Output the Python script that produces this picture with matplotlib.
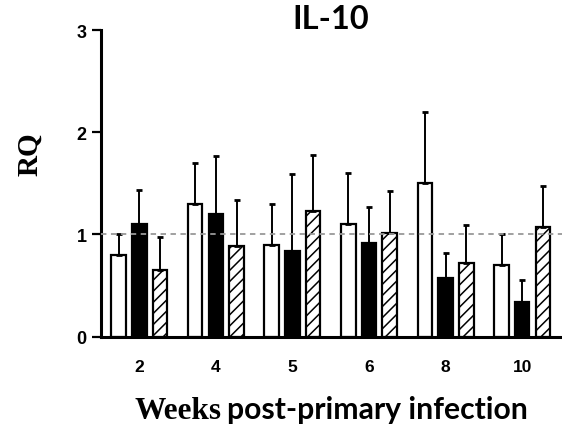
import numpy as np
import matplotlib
matplotlib.use('Agg')
import matplotlib.pyplot as plt

weeks = ['2', '4', '5', '6', '8', '10']

# mean RQ and upper SD for the three groups
white_mean = [0.80, 1.30, 0.90, 1.10, 1.50, 0.70]
white_err = [0.20, 0.40, 0.40, 0.50, 0.70, 0.30]
black_mean = [1.10, 1.20, 0.84, 0.92, 0.57, 0.34]
black_err = [0.33, 0.57, 0.75, 0.35, 0.25, 0.21]
hatch_mean = [0.65, 0.89, 1.23, 1.01, 0.72, 1.07]
hatch_err = [0.32, 0.45, 0.55, 0.41, 0.37, 0.40]

plt.rcParams['hatch.linewidth'] = 1.1

fig = plt.figure(figsize=(5.62, 4.31), dpi=100)
ax = fig.add_axes([0.1797, 0.2169, 0.8203, 0.7111])

x = np.arange(len(weeks))
step = 0.27
width = 0.19
err_kw = {'ecolor': 'black', 'elinewidth': 1.4, 'capsize': 2.3, 'capthick': 2.0}

series = [(white_mean, white_err, 'white', ''),
          (black_mean, black_err, 'black', ''),
          (hatch_mean, hatch_err, 'white', '///')]

for k, (mean, err, color, hatch) in enumerate(series):
    pos = x + (k - 1) * step
    ax.bar(pos, mean, width, color=color, edgecolor='black', linewidth=1.6, hatch=hatch,
           yerr=[np.zeros(len(err)), err], error_kw=err_kw, zorder=2)

ax.axhline(1, color='#999999', linestyle=(0, (3, 2.5)), linewidth=1.3, zorder=3)

ax.set_xlim(-0.5, 5.52)
ax.set_ylim(0, 3)
ax.set_yticks([0, 1, 2, 3])
ax.set_xticks(x)
ax.set_xticklabels(weeks)

for side in ['top', 'right']:
    ax.spines[side].set_visible(False)
for side in ['left', 'bottom']:
    ax.spines[side].set_linewidth(2.2)

ax.tick_params(axis='y', length=6.5, width=1.6, pad=4, labelsize=13)
ax.tick_params(axis='x', length=0, pad=16, labelsize=12.5)
for lab in ax.get_xticklabels() + ax.get_yticklabels():
    lab.set_fontfamily('Liberation Sans')
    lab.set_fontweight('bold')

fig.text(0.589, 0.955, 'IL-10', ha='center', va='center', fontsize=23.5,
         fontweight='bold', family='Lato')
fig.text(0.053, 0.643, 'RQ', ha='center', va='center', rotation=90, fontsize=21,
         fontweight='bold', family='Liberation Serif')
fig.text(0.240, 0.028, 'Weeks', ha='left', va='baseline', fontsize=22.5,
         fontweight='bold', family='Liberation Serif')
fig.text(0.940, 0.028, 'post-primary infection', ha='right', va='baseline', fontsize=21.7,
         fontweight='bold', family='Lato')

fig.savefig('out.png', dpi=100)
